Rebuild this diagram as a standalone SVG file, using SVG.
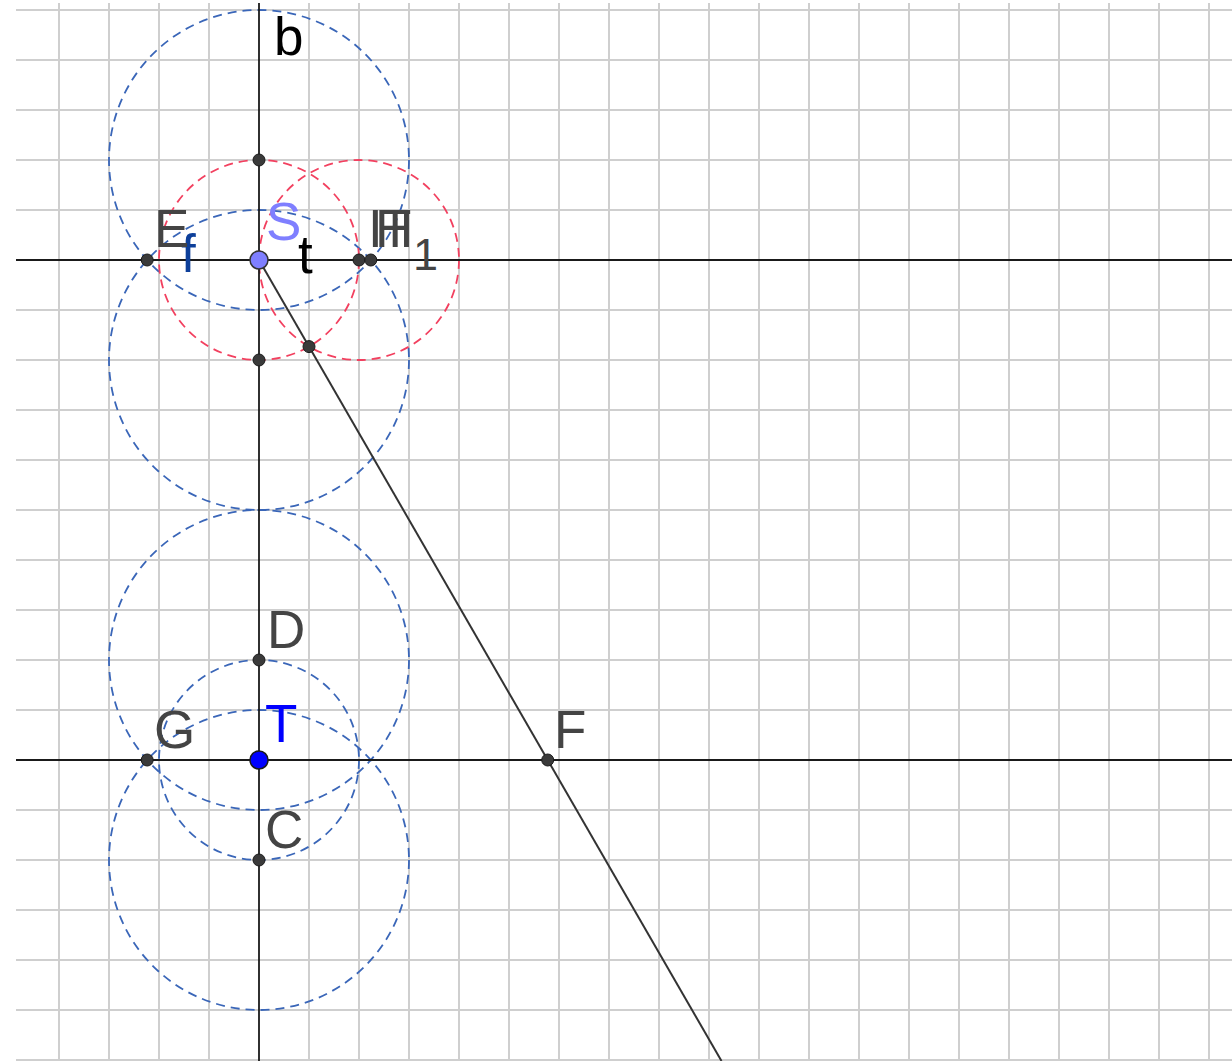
<svg xmlns="http://www.w3.org/2000/svg" width="1232" height="1061" viewBox="0 0 1232 1061">
<defs>
<style>
.grid line{stroke:#cfcfcf;stroke-width:2}
.ax{stroke:#1a1a1a;stroke-width:1.8;fill:none}
.ray{stroke:#333;stroke-width:2;fill:none}
.bc{fill:none;stroke:#3a66b8;stroke-width:1.8;stroke-dasharray:9 6}
.rc{fill:none;stroke:#f2405f;stroke-width:1.8;stroke-dasharray:9 6}
.pt{fill:#3a3a3a;stroke:#1a1a1a;stroke-width:1}
.lbl{font-family:"Liberation Sans",Arial,sans-serif;font-size:53px;fill:#444}
</style>
</defs>
<rect width="1232" height="1061" fill="#fff"/>
<g class="grid" id="grid">
<line x1="59" y1="3" x2="59" y2="1061"/><line x1="109" y1="3" x2="109" y2="1061"/><line x1="159" y1="3" x2="159" y2="1061"/><line x1="209" y1="3" x2="209" y2="1061"/><line x1="309" y1="3" x2="309" y2="1061"/><line x1="359" y1="3" x2="359" y2="1061"/><line x1="409" y1="3" x2="409" y2="1061"/><line x1="459" y1="3" x2="459" y2="1061"/><line x1="509" y1="3" x2="509" y2="1061"/><line x1="559" y1="3" x2="559" y2="1061"/><line x1="609" y1="3" x2="609" y2="1061"/><line x1="659" y1="3" x2="659" y2="1061"/><line x1="709" y1="3" x2="709" y2="1061"/><line x1="759" y1="3" x2="759" y2="1061"/><line x1="809" y1="3" x2="809" y2="1061"/><line x1="859" y1="3" x2="859" y2="1061"/><line x1="909" y1="3" x2="909" y2="1061"/><line x1="959" y1="3" x2="959" y2="1061"/><line x1="1009" y1="3" x2="1009" y2="1061"/><line x1="1059" y1="3" x2="1059" y2="1061"/><line x1="1109" y1="3" x2="1109" y2="1061"/><line x1="1159" y1="3" x2="1159" y2="1061"/><line x1="1209" y1="3" x2="1209" y2="1061"/>
<line x1="16" y1="10" x2="1232" y2="10"/><line x1="16" y1="60" x2="1232" y2="60"/><line x1="16" y1="110" x2="1232" y2="110"/><line x1="16" y1="160" x2="1232" y2="160"/><line x1="16" y1="210" x2="1232" y2="210"/><line x1="16" y1="310" x2="1232" y2="310"/><line x1="16" y1="360" x2="1232" y2="360"/><line x1="16" y1="410" x2="1232" y2="410"/><line x1="16" y1="460" x2="1232" y2="460"/><line x1="16" y1="510" x2="1232" y2="510"/><line x1="16" y1="560" x2="1232" y2="560"/><line x1="16" y1="610" x2="1232" y2="610"/><line x1="16" y1="660" x2="1232" y2="660"/><line x1="16" y1="710" x2="1232" y2="710"/><line x1="16" y1="810" x2="1232" y2="810"/><line x1="16" y1="860" x2="1232" y2="860"/><line x1="16" y1="910" x2="1232" y2="910"/><line x1="16" y1="960" x2="1232" y2="960"/><line x1="16" y1="1010" x2="1232" y2="1010"/><line x1="16" y1="1060" x2="1232" y2="1060"/>
</g>
<g id="connectors">
<circle class="bc" cx="259" cy="160" r="150"/>
<circle class="bc" cx="259" cy="360" r="150"/>
<circle class="bc" cx="259" cy="660" r="150"/>
<circle class="bc" cx="259" cy="860" r="150"/>
<circle class="bc" cx="259" cy="760" r="100"/>
<circle class="rc" cx="259" cy="260" r="100"/>
<circle class="rc" cx="359" cy="260" r="100"/>
<line class="ax" x1="259" y1="3" x2="259" y2="1061"/>
<line class="ax" x1="16" y1="260" x2="1232" y2="260"/>
<line class="ax" x1="16" y1="760" x2="1232" y2="760"/>
<line class="ray" x1="259" y1="260" x2="721.5" y2="1061"/>
</g>
<g id="line-labels">
<text class="lbl" x="274" y="55" style="fill:#000">b</text>
<text class="lbl" x="298" y="273" style="fill:#000">t</text>
<text class="lbl" x="181" y="272" style="fill:#0d3f9a">f</text>
</g>
<g id="node-p1"><circle class="pt" cx="259" cy="160" r="6"/></g>
<g id="node-p2"><circle class="pt" cx="259" cy="360" r="6"/></g>
<g id="node-p3"><circle class="pt" cx="309" cy="346.6" r="6"/></g>
<g id="node-E"><circle class="pt" cx="147.2" cy="260" r="6"/><text class="lbl" x="154" y="247">E</text></g>
<g id="node-H"><circle class="pt" cx="359" cy="260" r="6"/><text class="lbl" x="368" y="247">I</text><text class="lbl" x="375" y="247">H</text></g>
<g id="node-T1"><circle class="pt" cx="370.8" cy="260" r="6"/><text class="lbl" x="379" y="247">T</text><text class="lbl" x="413" y="270" style="font-size:45px">1</text></g>
<g id="node-S"><circle cx="259" cy="260" r="9" fill="#7f7fff" stroke="#333" stroke-width="1.5"/><text class="lbl" x="266" y="240" style="fill:#7f7fff">S</text></g>
<g id="node-D"><circle class="pt" cx="259" cy="660" r="6"/><text class="lbl" x="267" y="648">D</text></g>
<g id="node-C"><circle class="pt" cx="259" cy="860" r="6"/><text class="lbl" x="265" y="848">C</text></g>
<g id="node-G"><circle class="pt" cx="147.2" cy="760" r="6"/><text class="lbl" x="154" y="748">G</text></g>
<g id="node-F"><circle class="pt" cx="547.7" cy="760" r="6"/><text class="lbl" x="554" y="748">F</text></g>
<g id="node-T"><circle cx="259" cy="760" r="9" fill="#0000ff" stroke="#1a1a1a" stroke-width="1.5"/><text class="lbl" x="265" y="742" style="fill:#0000ff">T</text></g>
</svg>
